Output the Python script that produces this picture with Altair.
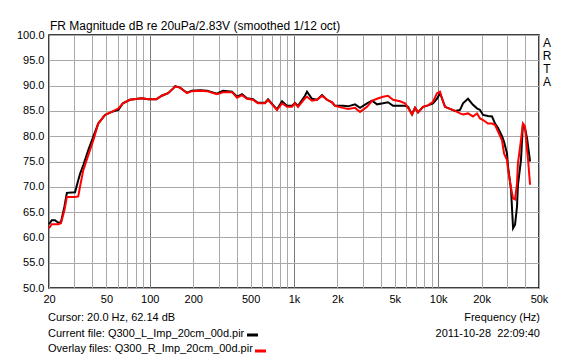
import altair as alt
import pandas as pd

# Frequency points (Hz)
freq = [20, 20.9, 22, 23.2, 24.2, 25.6, 26.6, 30.3, 31.9, 32.8, 34.6, 37.5, 40.6, 43.9,
        48.9, 54.5, 60.6, 65.1, 72.7, 87.9, 97.5, 111, 121, 134, 146, 150, 162, 181, 196,
        223, 249, 292, 322, 372, 403, 436, 472, 520, 562, 630, 661, 704, 762, 826, 894,
        968, 1016, 1066, 1192, 1231, 1333, 1444, 1564, 1694, 1835, 1924, 2187, 2370, 2650,
        2871, 3210, 3477, 3766, 4143, 4487, 4861, 5435, 5888, 6180, 6580, 6905, 7245, 7850,
        8500, 9200, 9810, 10290, 10620, 11150, 12080, 13090, 14170, 14860, 16100, 17420,
        18580, 19500, 20460, 22140, 23610, 24780, 26000, 27700, 28600, 30000, 30500, 32000,
        33050, 34100, 35200, 35700, 37500, 38700, 40000, 41300, 42000, 43350]

# Current file (L), dB
db_left = [62.6, 63.4, 63.4, 62.9, 63.0, 66.1, 68.8, 68.9, 71.3, 72.5, 74.3, 77.3, 79.9, 82.5,
           84.2, 84.8, 85.2, 86.5, 87.2, 87.5, 87.3, 87.3, 88.0, 88.5, 89.5, 89.9, 89.6, 88.6, 89.0,
           89.1, 89.0, 88.4, 89.0, 88.8, 87.8, 88.3, 87.5, 87.3, 86.6, 86.6, 87.3, 86.4, 85.3, 86.9, 86.0,
           86.0, 86.6, 86.0, 88.0, 88.8, 87.4, 87.2, 88.1, 87.2, 86.7, 86.0, 86.0, 85.9, 86.3,
           85.6, 86.5, 87.0, 86.3, 86.5, 86.7, 86.0, 86.0, 86.0, 85.8, 84.3, 85.6, 84.7, 85.8,
           86.1, 86.5, 87.4, 88.5, 87.5, 85.8, 85.4, 85.0, 85.2, 86.5, 87.4, 86.2,
           85.5, 85.2, 84.2, 84.0, 83.9, 82.5, 81.6, 80.0, 78.9, 76.6, 74.0, 69.4,
           61.8, 62.5, 66.1, 70.3, 75.3, 82.5, 81.5, 79.6, 78.0, 75.0]

# Overlay file (R), dB
db_right = [61.8, 62.6, 62.6, 62.6, 62.8, 65.4, 68.0, 68.0, 68.1, 70.0, 73.3, 76.3, 79.2, 82.5,
            84.2, 84.8, 85.5, 86.5, 87.2, 87.5, 87.3, 87.3, 88.0, 88.5, 89.5, 89.8, 89.6, 88.5, 88.9,
            89.0, 88.9, 88.3, 88.7, 88.7, 87.6, 88.1, 87.4, 87.2, 86.5, 86.5, 87.2, 86.3, 85.2, 86.5, 85.8,
            85.8, 86.5, 85.8, 87.5, 87.8, 87.0, 87.2, 88.0, 87.2, 86.7, 86.0, 85.6, 85.4, 85.6,
            84.8, 85.8, 87.0, 87.4, 87.8, 88.0, 87.2, 86.9, 86.5, 85.6, 84.3, 85.6, 84.7, 85.8,
            86.1, 86.8, 88.5, 88.8, 87.5, 85.8, 85.4, 85.0, 84.5, 84.3, 84.5, 83.9,
            84.5, 83.5, 83.2, 82.5, 82.5, 82.2, 80.9, 79.2, 76.6, 75.3, 73.4, 69.8,
            67.7, 67.5, 70.7, 74.6, 79.2, 82.5, 81.9, 77.3, 75.3, 70.4]

x_grid = [20, 30, 40, 50, 60, 70, 80, 90, 100, 200, 300, 400, 500, 600, 700, 800, 900,
          1000, 2000, 3000, 4000, 5000, 6000, 7000, 8000, 9000, 10000, 20000, 30000, 40000, 50000]
x_labeled = [20, 50, 100, 200, 500, 1000, 2000, 5000, 10000, 20000, 50000]
y_ticks = [50, 55, 60, 65, 70, 75, 80, 85, 90, 95, 100]

title_text = "FR Magnitude dB re 20uPa/2.83V (smoothed 1/12 oct)"
cursor_text = "Cursor: 20.0 Hz, 62.14 dB"
xlabel_text = "Frequency (Hz)"
current_text = "Current file: Q300_L_Imp_20cm_00d.pir"
overlay_text = "Overlay files: Q300_R_Imp_20cm_00d.pir"
date_text = "2011-10-28\u00a0\u00a022:09:40"

FONT = "Liberation Sans"

df_l = pd.DataFrame({"freq": freq, "db": db_left})
df_r = pd.DataFrame({"freq": freq, "db": db_right})

label_list = ",".join(str(v) for v in x_labeled)
x_enc = alt.X(
    "freq:Q",
    scale=alt.Scale(type="log", domain=[20, 50000], nice=False),
    axis=alt.Axis(
        title=None, values=x_grid, ticks=False, domain=False,
        labelExpr=f"indexof([{label_list}], datum.value) >= 0 ? (datum.value >= 1000 ? format(datum.value/1000, 'd') + 'k' : format(datum.value, 'd')) : ''",
        labelOverlap=False, labelFlush=False, labelPadding=5,
        labelFontSize=11, labelColor="black", labelFont=FONT,
        gridColor={"condition": {"test": "indexof([100,1000,10000], datum.value) >= 0", "value": "#787878"}, "value": "#a8a8a8"},
        gridWidth=1,
    ),
)
y_enc = alt.Y(
    "db:Q",
    scale=alt.Scale(domain=[50, 100], nice=False, zero=False),
    axis=alt.Axis(
        title=None, values=y_ticks, format=".1f", ticks=False, domain=False,
        labelPadding=5, labelFontSize=11, labelColor="black", labelFont=FONT,
        gridColor="#a8a8a8", gridWidth=1,
    ),
)

line_l = alt.Chart(df_l).mark_line(color="black", strokeWidth=2, interpolate="linear").encode(x=x_enc, y=y_enc)
line_r = alt.Chart(df_r).mark_line(color="#ff0000", strokeWidth=2, interpolate="linear").encode(x=x_enc, y=y_enc)

one = alt.Data(values=[{"k": 1}])


def txt(s, x, y, align="left", size=11, baseline="middle"):
    return alt.Chart(one).mark_text(
        align=align, baseline=baseline, fontSize=size, font=FONT, color="black"
    ).encode(x=alt.value(x), y=alt.value(y), text=alt.value(s))


def dash(x1, x2, y, color):
    return alt.Chart(one).mark_rule(color=color, strokeWidth=3).encode(
        x=alt.value(x1), x2=alt.value(x2), y=alt.value(y)
    )


layers = [
    line_l, line_r,
    txt(title_text, 1, -5.5, size=12, baseline="alphabetic"),
    txt("A", 498, 8, align="center", size=12),
    txt("R", 498, 21, align="center", size=12),
    txt("T", 498, 33.5, align="center", size=12),
    txt("A", 498, 46.5, align="center", size=12),
    txt(cursor_text, -1, 283),
    txt(xlabel_text, 491, 283, align="right"),
    txt(current_text, -1, 298.5),
    txt(date_text, 491, 298.5, align="right"),
    txt(overlay_text, -1, 314),
    dash(198, 209, 300, "black"),
    dash(206, 217, 316, "#ff0000"),
]

chart = alt.layer(*layers).properties(
    width=490, height=253,
    autosize=alt.AutoSizeParams(type="none"),
    padding={"left": 41, "top": 27, "right": 38, "bottom": 69},
    background="white",
).configure_view(stroke="black", strokeWidth=1.5)

chart.save("out.html", embed_options={"renderer": "svg", "actions": False})
